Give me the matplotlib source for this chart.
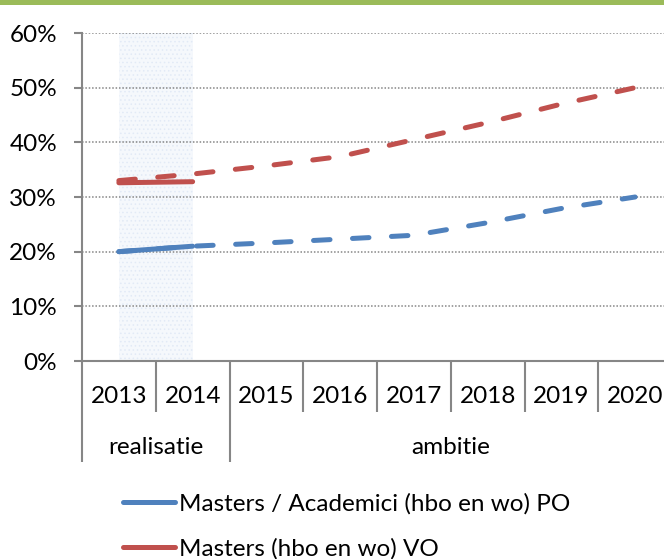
import matplotlib.pyplot as plt
from matplotlib.lines import Line2D
from matplotlib.patches import Rectangle
from matplotlib.ticker import FuncFormatter

# data
years = ['2013', '2014', '2015', '2016', '2017', '2018', '2019', '2020']
groups = ['realisatie', 'ambitie']
group_sizes = [2, 6]
po_real = [20.0, 21.0]
vo_real = [32.6, 32.8]
po_ambitie = [20.0, 21.0, 21.6, 22.3, 23.0, 25.3, 27.9, 30.0]
vo_ambitie = [33.0, 34.2, 35.7, 37.4, 40.5, 43.6, 47.0, 50.0]
labels = ['Masters / Academici (hbo en wo) PO', 'Masters (hbo en wo) VO']

blue = '#4F81BD'
red = '#C0504D'
grey = '#868686'

plt.rcParams['font.family'] = ['Lato', 'DejaVu Sans']
plt.rcParams['hatch.linewidth'] = 0.6
fs = 17.5

fig = plt.figure(figsize=(6.64, 5.59), dpi=100)
# green bar at the top
fig.patches.append(Rectangle((0, 1 - 5 / 559), 1, 5 / 559, transform=fig.transFigure,
                             facecolor='#9BBB59', edgecolor='none'))

ax = fig.add_axes([82 / 664, 198 / 559, 590 / 664, 328 / 559])
x = [i + 0.5 for i in range(len(years))]

# shaded realisatie period
ax.axvspan(x[0], x[1], ymin=0, ymax=1, facecolor='#f5f8fc', edgecolor='#e2eaf6',
           hatch='....', linewidth=0, zorder=0)

lw = 3.6
ax.plot(x[:len(po_real)], po_real, color=blue, lw=lw, solid_capstyle='round', zorder=3)
ax.plot(x[:len(vo_real)], vo_real, color=red, lw=lw, solid_capstyle='round', zorder=3)
l1, = ax.plot(x, po_ambitie, color=blue, lw=lw, dash_capstyle='round', zorder=3)
l1.set_dashes((3.3, 4.5))
l2, = ax.plot(x, vo_ambitie, color=red, lw=lw, dash_capstyle='round', zorder=3)
l2.set_dashes((3.3, 4.5))

ax.set_xlim(0, 8)
ax.set_ylim(0, 60)
ax.set_yticks(range(0, 61, 10))
ax.yaxis.set_major_formatter(FuncFormatter(lambda v, p: '{:.0f}%'.format(v)))
ax.yaxis.grid(True, color=grey, linestyle=(0, (1, 1.2)), linewidth=1.1)
ax.set_axisbelow(True)
ax.tick_params(axis='y', length=6, width=1.5, color=grey, pad=12, labelsize=fs)

for s in ['top', 'right']:
    ax.spines[s].set_visible(False)
for s in ['left', 'bottom']:
    ax.spines[s].set_color(grey)
    ax.spines[s].set_linewidth(1.5)

# multi-level category axis
bounds = [0]
for n in group_sizes:
    bounds.append(bounds[-1] + n)
ax.set_xticks([i for i in range(1, 8) if i not in bounds])
ax.set_xticks(bounds[:-1], minor=True)
ax.set_xticklabels([])
ax.tick_params(axis='x', which='major', length=36.5, width=1.5, color=grey, direction='out')
ax.tick_params(axis='x', which='minor', length=73, width=1.5, color=grey, direction='out')

for xi, yr in zip(x, years):
    ax.annotate(yr, xy=(xi, 0), xycoords=('data', 'axes fraction'), xytext=(0, -25.5),
                textcoords='offset points', ha='center', va='center', fontsize=fs)
for g, a, b in zip(groups, bounds[:-1], bounds[1:]):
    ax.annotate(g, xy=((a + b) / 2, 0), xycoords=('data', 'axes fraction'), xytext=(0, -62.5),
                textcoords='offset points', ha='center', va='center', fontsize=fs)

handles = [Line2D([], [], color=blue, lw=lw, solid_capstyle='round'),
           Line2D([], [], color=red, lw=lw, solid_capstyle='round')]
fig.legend(handles, labels, loc='center left', bbox_to_anchor=(113 / 664, 1 - 526 / 559),
           frameon=False, fontsize=fs, handlelength=2.15, handletextpad=0.15,
           labelspacing=0.98, borderaxespad=0)

fig.savefig('out.png', dpi=100)
